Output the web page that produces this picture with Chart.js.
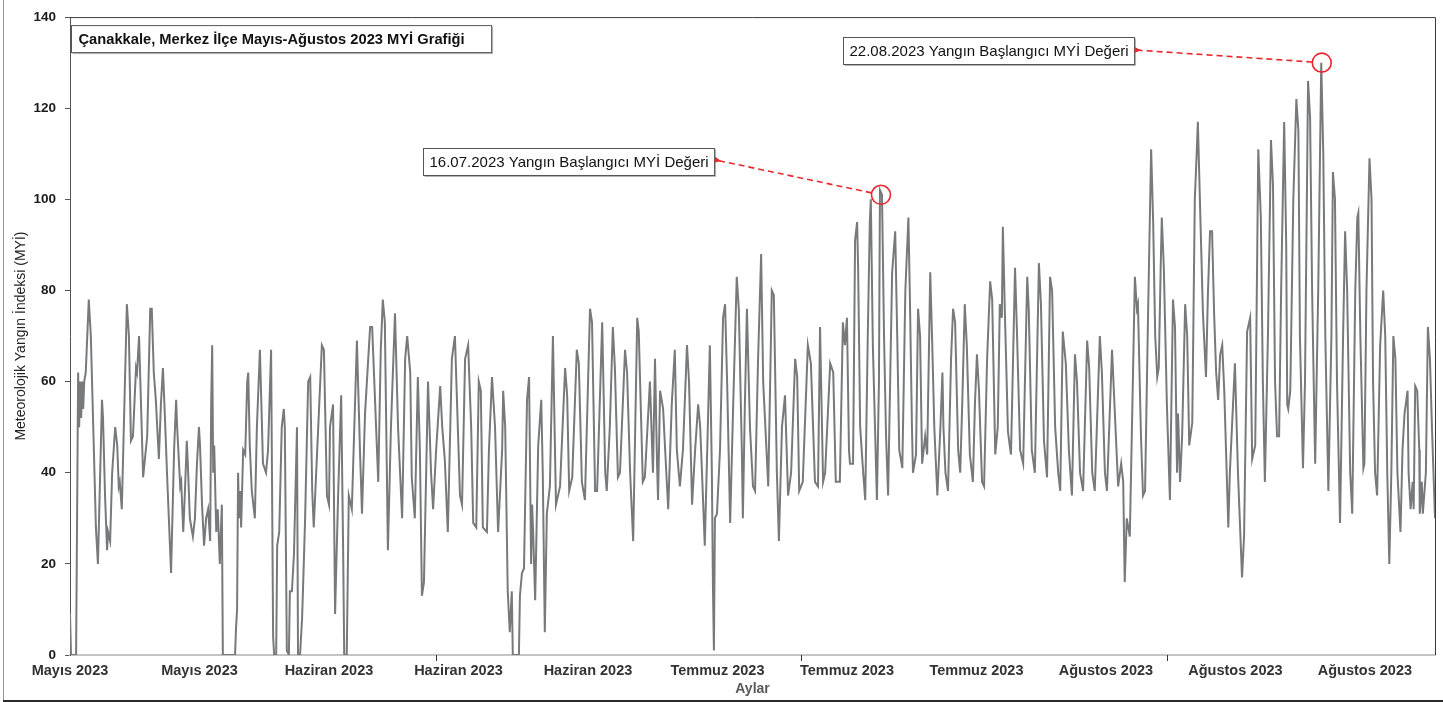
<!DOCTYPE html>
<html lang="tr">
<head>
<meta charset="utf-8">
<title>Çanakkale, Merkez İlçe Mayıs-Ağustos 2023 MYİ Grafiği</title>
<script src="https://cdn.jsdelivr.net/npm/chart.js@4.4.1/dist/chart.umd.min.js"></script>
<style>
  html, body { margin: 0; padding: 0; background: #fff; }
  #kutu { width: 1443px; height: 702px; }
</style>
</head>
<body>
<div id="kutu"><canvas id="grafik" width="1443" height="702"></canvas></div>
<script>
// ============================================
// VERİLER (saat, MYİ)
// ============================================

const mayis = [[0,9],[2,0],[12,0],[16,62],[18,50],[20,60],[22,52],[24,60],[26,54],[28,60],[31,62],[37,78],[41,70],[47,45],[51,28],[55,20],[63,56],[65,52],[69,35],[73,23],[75,27],[79,25],[83,40],[89,50],[93,46],[96,37],[98,38],[102,32],[112,77],[116,70],[120,47],[124,48],[130,63],[132,62],[136,70],[138,62],[144,39],[152,48],[158,76],[161,76],[165,62],[169,56],[175,43],[179,55],[183,63],[187,52],[191,40],[199,18],[205,45],[209,56],[211,50],[217,37],[219,38],[223,27],[226,35],[230,47],[232,42],[236,30],[242,26],[246,30],[250,42],[254,50],[256,46],[260,33],[264,24],[268,30],[272,32],[276,25],[278,55],[280,68],[282,40],[284,46],[288,27],[291,32],[295,20],[299,33],[301,0],[325,0],[327,6],[329,10],[331,40],[333,30],[335,36],[337,28],[341,45],[345,44],[349,60],[351,62],[354,46],[358,36],[364,30],[368,50],[374,67],[380,42],[386,40],[390,45],[396,67],[400,4],[402,0],[406,0],[408,24],[412,27],[417,50],[421,54],[423,50],[427,1],[431,0],[433,14],[437,14],[441,22],[447,50],[449,0],[453,0],[457,8],[459,15],[463,30],[469,60],[473,61],[477,36],[480,28],[484,38],[496,68],[500,67],[506,35],[510,33],[512,50],[518,55],[522,9],[528,35],[534,57],[538,22],[540,0],[545,0],[549,35],[555,32],[565,69],[571,45],[575,31],[581,53],[591,72],[595,72],[607,38],[612,67],[616,78],[620,73],[626,23],[632,50],[640,75],[646,50],[654,30],[660,65],[664,70],[670,62],[673,39],[679,30],[685,61],[689,45],[693,13],[697,16],[705,60],[711,40],[715,32]];

const haziran = [[721,45],[729,59],[733,50],[738,43],[744,27],[752,65],[758,70],[768,35],[772,33],[778,65],[784,68],[790,50],[794,29],[800,28],[805,60],[809,58],[813,28],[821,27],[825,45],[831,61],[837,50],[843,27],[851,45],[853,58],[857,50],[862,14],[866,5],[870,14],[872,0],[884,0],[886,13],[890,18],[894,19],[900,56],[904,61],[908,20],[910,33],[912,27],[916,12],[922,46],[928,56],[931,40],[935,5],[939,31],[945,37],[951,70],[957,33],[965,37],[975,63],[979,57],[983,36],[989,39],[998,67],[1002,64],[1008,38],[1014,34],[1024,76],[1028,73],[1034,36],[1038,36],[1048,73],[1054,40],[1057,36],[1063,50],[1069,72],[1073,63],[1079,39],[1083,40],[1093,67],[1097,62],[1103,40],[1109,25],[1117,74],[1120,71],[1128,38],[1132,39],[1142,60],[1148,40],[1152,65],[1156,42],[1158,34],[1162,58],[1168,54],[1172,45],[1178,32],[1185,55],[1189,63],[1191,67],[1195,45],[1201,37],[1207,45],[1215,68],[1219,60],[1225,33],[1231,45],[1237,55],[1241,50],[1247,33],[1250,24],[1256,50],[1260,68],[1264,40],[1266,16],[1268,1],[1270,30],[1274,31],[1280,45],[1286,74],[1290,77],[1294,60],[1300,29],[1306,55],[1313,83],[1317,76],[1323,45],[1325,30],[1329,55],[1333,76],[1339,50],[1345,37],[1349,36],[1355,65],[1361,88],[1365,60],[1375,37],[1378,55],[1382,80],[1386,79],[1392,40],[1396,25],[1402,50],[1408,57],[1414,35],[1420,40],[1428,65],[1432,61],[1436,36]];

const temmuz = [[1443,38],[1453,68],[1459,64],[1467,38],[1473,37],[1477,72],[1483,38],[1487,40],[1497,64],[1503,62],[1508,38],[1516,38],[1522,73],[1526,68],[1530,74],[1534,45],[1536,42],[1542,42],[1546,91],[1550,95],[1552,85],[1556,50],[1562,40],[1566,34],[1571,70],[1575,95],[1577,100],[1581,68],[1589,34],[1593,60],[1595,102],[1599,101],[1603,70],[1607,48],[1611,35],[1619,84],[1625,93],[1629,70],[1633,45],[1639,41],[1645,80],[1651,96],[1654,78],[1658,50],[1660,40],[1666,44],[1670,76],[1674,70],[1678,42],[1684,48],[1688,44],[1694,84],[1698,68],[1702,50],[1708,35],[1714,50],[1718,62],[1720,50],[1724,40],[1729,36],[1735,65],[1739,76],[1743,73],[1749,45],[1753,40],[1757,55],[1762,77],[1766,68],[1772,44],[1778,38],[1782,55],[1786,66],[1790,58],[1796,38],[1800,37],[1806,65],[1812,82],[1816,78],[1822,44],[1827,50],[1831,77],[1835,74],[1837,94],[1841,75],[1845,58],[1847,49],[1853,44],[1861,85],[1865,70],[1871,45],[1877,42],[1885,83],[1888,76],[1894,45],[1900,40],[1908,86],[1912,77],[1918,47],[1924,39],[1930,83],[1934,80],[1940,50],[1946,40],[1950,36],[1955,71],[1961,64],[1967,45],[1973,35],[1979,66],[1983,60],[1989,40],[1995,36],[2003,69],[2007,63],[2013,40],[2018,36],[2028,70],[2032,62],[2038,40],[2042,36],[2052,67],[2058,52],[2064,37],[2070,42],[2074,38],[2077,16],[2081,30],[2087,26],[2093,60],[2097,83],[2101,76],[2103,77],[2109,48],[2113,35],[2117,36],[2123,75],[2129,111],[2133,95],[2137,70],[2141,61],[2144,63],[2148,86],[2150,96],[2154,85]];

const agustos = [[2160,55],[2166,34],[2172,78],[2176,72],[2180,40],[2182,53],[2186,38],[2190,48],[2196,77],[2200,70],[2204,46],[2210,51],[2215,100],[2219,111],[2221,117],[2225,100],[2231,75],[2237,61],[2241,80],[2245,93],[2249,93],[2253,75],[2257,62],[2261,56],[2265,66],[2269,68],[2273,58],[2281,28],[2284,40],[2294,64],[2300,40],[2308,17],[2312,26],[2318,71],[2324,74],[2328,43],[2334,46],[2340,111],[2345,96],[2349,60],[2353,38],[2359,70],[2365,113],[2369,103],[2373,60],[2377,48],[2381,48],[2385,80],[2391,117],[2395,90],[2397,55],[2399,54],[2403,58],[2409,100],[2415,122],[2419,115],[2422,70],[2428,41],[2432,60],[2438,126],[2442,118],[2446,80],[2452,42],[2458,80],[2464,130],[2468,110],[2472,70],[2478,36],[2484,70],[2487,106],[2491,100],[2495,60],[2501,29],[2507,70],[2511,93],[2515,80],[2521,40],[2525,31],[2531,80],[2535,96],[2537,97],[2541,70],[2547,41],[2549,42],[2553,80],[2559,109],[2563,100],[2566,60],[2570,40],[2574,35],[2580,68],[2586,80],[2590,70],[2594,40],[2598,20],[2602,40],[2606,70],[2610,65],[2614,40],[2620,27],[2624,45],[2628,53],[2634,58],[2636,40],[2640,32],[2644,38],[2646,32],[2649,59],[2653,58],[2657,45],[2658,31],[2662,38],[2664,31],[2670,40],[2674,72],[2678,65],[2682,50],[2688,30]];

// Eksen etiketleri
const xEtiketleri = ['Mayıs 2023', 'Mayıs 2023', 'Haziran 2023', 'Haziran 2023', 'Haziran 2023',
    'Temmuz 2023', 'Temmuz 2023', 'Temmuz 2023', 'Ağustos 2023', 'Ağustos 2023', 'Ağustos 2023'];
const etiketSaatleri = [0, 255, 510, 765, 1020, 1275, 1530, 1785, 2040, 2295, 2550];
const ayBaslari = [720, 1440, 2160];
const toplamSaat = 2688;

// Yangın başlangıcı notları
const notlar = [
    { metin: '16.07.2023 Yangın Başlangıcı MYİ Değeri', saat: 1597, myi: 101, kutuSaat: 1268, kutuMyi: 108.4 },
    { metin: '22.08.2023 Yangın Başlangıcı MYİ Değeri', saat: 2465, myi: 130, kutuSaat: 2095, kutuMyi: 132.7 }
];

const baslik = 'Çanakkale, Merkez İlçe Mayıs-Ağustos 2023 MYİ Grafiği';
const YAZI = "'Liberation Sans', Arial, sans-serif";

const noktalar = [...mayis, ...haziran, ...temmuz, ...agustos].map(([s, v]) => ({ x: s, y: v }));

/**
 * Dış çerçeve, grafik alanı kenarları, ay çentikleri
 */
const cerceveEklentisi = {
    id: 'cerceve',
    afterDraw(chart) {
        const { ctx, chartArea: a } = chart;
        const x = chart.scales.x;
        ctx.save();
        // grafik alanı üst ve sağ kenar
        ctx.strokeStyle = '#3a3a3a';
        ctx.lineWidth = 1;
        ctx.beginPath();
        ctx.moveTo(a.left, a.top + 0.5);
        ctx.lineTo(a.right + 0.5, a.top + 0.5);
        ctx.lineTo(a.right + 0.5, a.bottom);
        ctx.stroke();
        // ay başı çentikleri
        ctx.strokeStyle = '#333';
        ayBaslari.forEach(s => {
            const px = Math.round(x.getPixelForValue(s)) + 0.5;
            ctx.beginPath();
            ctx.moveTo(px, a.bottom);
            ctx.lineTo(px, a.bottom + 6);
            ctx.stroke();
        });
        // dış çerçeve
        ctx.strokeStyle = '#9a9a9a';
        ctx.beginPath();
        ctx.moveTo(3.5, 0);
        ctx.lineTo(3.5, 700);
        ctx.stroke();
        ctx.strokeStyle = '#2b2b2b';
        ctx.lineWidth = 2;
        ctx.beginPath();
        ctx.moveTo(3, 701);
        ctx.lineTo(1443, 701);
        ctx.stroke();
        ctx.restore();
    }
};

/**
 * Başlık kutusu, not kutuları, kırmızı daireler ve kesikli oklar
 */
const notEklentisi = {
    id: 'notlar',
    afterDatasetsDraw(chart) {
        const { ctx, chartArea: a } = chart;
        const x = chart.scales.x;
        const y = chart.scales.y;
        ctx.save();

        // Başlık kutusu
        ctx.font = `bold 14.7px ${YAZI}`;
        const bw = ctx.measureText(baslik).width + 34;
        const bx = a.left + 1.5, by = a.top + 8.5;
        kutuCiz(ctx, bx, by, bw, 27);
        ctx.fillStyle = '#111';
        ctx.textBaseline = 'middle';
        ctx.fillText(baslik, bx + 7, by + 14);

        notlar.forEach(n => {
            const cx = x.getPixelForValue(n.saat);
            const cy = y.getPixelForValue(n.myi);
            const kx = x.getPixelForValue(n.kutuSaat);
            const ky = y.getPixelForValue(n.kutuMyi);

            ctx.font = `15px ${YAZI}`;
            const w = ctx.measureText(n.metin).width + 12;
            const h = 27;
            const sol = Math.round(kx - w) + 0.5;
            const ust = Math.round(ky - h / 2) + 0.5;
            kutuCiz(ctx, sol, ust, w, h);
            ctx.fillStyle = '#111';
            ctx.textBaseline = 'middle';
            ctx.fillText(n.metin, sol + 6, ust + h / 2 + 1);

            // daire
            const r = 9.5;
            ctx.strokeStyle = '#e8282e';
            ctx.lineWidth = 1.6;
            ctx.setLineDash([]);
            ctx.beginPath();
            ctx.arc(cx, cy, r, 0, Math.PI * 2);
            ctx.stroke();

            // kesikli ok
            const ux = kx + 7, uy = ky;
            const dx = ux - cx, dy = uy - cy;
            const d = Math.hypot(dx, dy);
            const bxp = cx + dx / d * r, byp = cy + dy / d * r;
            ctx.setLineDash([6, 4]);
            ctx.beginPath();
            ctx.moveTo(bxp, byp);
            ctx.lineTo(ux + dx / d * 5, uy + dy / d * 5);
            ctx.stroke();
            ctx.setLineDash([]);
            // ok ucu
            const aci = Math.atan2(-dy, -dx);
            ctx.fillStyle = '#e8282e';
            ctx.beginPath();
            ctx.moveTo(ux, uy);
            ctx.lineTo(ux - Math.cos(aci - 0.45) * 7, uy - Math.sin(aci - 0.45) * 7);
            ctx.lineTo(ux - Math.cos(aci + 0.45) * 7, uy - Math.sin(aci + 0.45) * 7);
            ctx.closePath();
            ctx.fill();
        });
        ctx.restore();
    }
};

function kutuCiz(ctx, x, y, w, h) {
    ctx.fillStyle = '#fff';
    ctx.fillRect(x, y, w, h);
    ctx.strokeStyle = '#b5b5b5';
    ctx.lineWidth = 1;
    ctx.beginPath();
    ctx.moveTo(x + 1, y + h + 1);
    ctx.lineTo(x + w + 1, y + h + 1);
    ctx.lineTo(x + w + 1, y + 1);
    ctx.stroke();
    ctx.strokeStyle = '#555';
    ctx.strokeRect(x, y, w, h);
}

new Chart(document.getElementById('grafik'), {
    type: 'line',
    data: {
        datasets: [{
            data: noktalar,
            borderColor: '#77797b',
            borderWidth: 2,
            pointRadius: 0,
            tension: 0,
            fill: false
        }]
    },
    options: {
        responsive: false,
        animation: false,
        devicePixelRatio: 1,
        layout: { padding: { top: 15, right: 8, left: 0, bottom: 0 } },
        plugins: {
            legend: { display: false },
            tooltip: { enabled: false }
        },
        scales: {
            x: {
                type: 'linear',
                min: 0,
                max: toplamSaat,
                afterBuildTicks: ax => { ax.ticks = etiketSaatleri.map(v => ({ value: v })); },
                afterFit: ax => { ax.height = 47; },
                ticks: {
                    autoSkip: false,
                    maxRotation: 0,
                    padding: 7,
                    color: '#333',
                    font: { family: YAZI, size: 14.5, weight: 'bold' },
                    callback: (v, i) => xEtiketleri[i]
                },
                grid: { display: false, drawTicks: false },
                border: { display: true, color: '#c4c4c4', width: 2 },
                title: {
                    display: true,
                    text: 'Aylar',
                    color: '#595959',
                    font: { family: YAZI, size: 14, weight: 'bold' },
                    padding: { top: 0, bottom: 4 }
                }
            },
            y: {
                min: 0,
                max: 140,
                afterFit: ax => { ax.width = 70; },
                ticks: {
                    stepSize: 20,
                    padding: 9,
                    color: '#1a1a1a',
                    font: { family: YAZI, size: 13.5, weight: 'bold' }
                },
                grid: { drawOnChartArea: false, drawTicks: true, tickLength: 5, color: '#555' },
                border: { display: true, color: '#555', width: 1 },
                title: {
                    display: true,
                    text: 'Meteorolojik Yangın İndeksi (MYİ)',
                    color: '#222',
                    font: { family: YAZI, size: 14 },
                    padding: { top: 13, bottom: 0 }
                }
            }
        }
    },
    plugins: [cerceveEklentisi, notEklentisi]
});
</script>
</body>
</html>
